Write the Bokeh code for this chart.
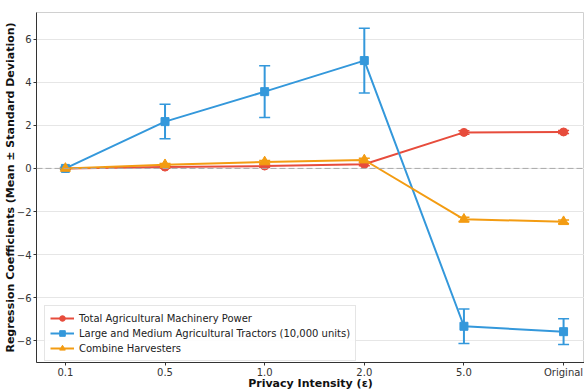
from bokeh.plotting import figure
from bokeh.models import ColumnDataSource, Whisker, TeeHead, Span, Legend, LegendItem, FixedTicker, Range1d
from bokeh.embed import file_html
from bokeh.resources import INLINE

categories = ["0.1", "0.5", "1.0", "2.0", "5.0", "Original"]
series_names = [
    "Total Agricultural Machinery Power",
    "Large and Medium Agricultural Tractors (10,000 units)",
    "Combine Harvesters",
]
power_mean = [0.0, 0.06, 0.11, 0.19, 1.67, 1.69]
power_std = [0.02, 0.05, 0.06, 0.07, 0.08, 0.07]
tractor_mean = [0.0, 2.17, 3.56, 5.0, -7.32, -7.57]
tractor_std = [0.05, 0.8, 1.2, 1.5, 0.8, 0.6]
harvest_mean = [0.0, 0.17, 0.3, 0.39, -2.36, -2.47]
harvest_std = [0.02, 0.06, 0.07, 0.08, 0.1, 0.08]
y_ticks = [-8, -6, -4, -2, 0, 2, 4, 6]

colors = ["#e74c3c", "#3498db", "#f39c12"]
markers = ["circle", "square", "triangle"]
msizes = [8, 8, 10]
FONT = "DejaVu Sans"

p = figure(width=584, height=392, output_backend="svg", toolbar_location=None,
           x_range=Range1d(-0.29, 5.21), y_range=Range1d(-9.0, 7.23),
           min_border_top=12, min_border_left=0, min_border_right=0, min_border_bottom=0)

p.xgrid.grid_line_color = None
p.ygrid.grid_line_color = "#e6e6e6"
p.ygrid.grid_line_width = 1
p.outline_line_color = "#d0d0d0"

xs = list(range(len(categories)))
p.xaxis.ticker = FixedTicker(ticks=xs)
p.xaxis.major_label_overrides = {i: c for i, c in enumerate(categories)}
p.yaxis.ticker = FixedTicker(ticks=y_ticks)

for ax in (p.xaxis[0], p.yaxis[0]):
    ax.axis_line_color = "#333333"
    ax.axis_line_width = 1
    ax.major_tick_line_color = "#333333"
    ax.major_tick_out = 3
    ax.major_tick_in = 0
    ax.minor_tick_line_color = None
    ax.major_label_text_font = FONT
    ax.major_label_text_font_size = "10px"
    ax.major_label_text_color = "#333333"
    ax.axis_label_text_font = FONT
    ax.axis_label_text_font_size = "11px"
    ax.axis_label_text_font_style = "bold"
    ax.axis_label_text_color = "#111111"

p.xaxis.major_label_standoff = 1
p.xaxis.axis_label_standoff = -4
p.yaxis.major_label_standoff = 2
p.yaxis.axis_label_standoff = -3

p.xaxis.axis_label = "Privacy Intensity (ε)"
p.yaxis.axis_label = "Regression Coefficients (Mean ± Standard Deviation)"

p.add_layout(Span(location=0, dimension="width", line_color="#aaaaaa",
                  line_dash="6 3", line_width=1))

items = []
for name, mean, std, col, mk, ms in zip(series_names,
                                         [power_mean, tractor_mean, harvest_mean],
                                         [power_std, tractor_std, harvest_std],
                                         colors, markers, msizes):
    src = ColumnDataSource(dict(x=xs, y=mean,
                                lo=[m - s for m, s in zip(mean, std)],
                                hi=[m + s for m, s in zip(mean, std)]))
    w = Whisker(source=src, base="x", lower="lo", upper="hi", line_color=col,
                line_width=2,
                upper_head=TeeHead(size=11, line_color=col, line_width=1.5),
                lower_head=TeeHead(size=11, line_color=col, line_width=1.5))
    p.add_layout(w)
    l = p.line("x", "y", source=src, line_color=col, line_width=2)
    s = p.scatter("x", "y", source=src, marker=mk, size=ms, fill_color=col,
                  line_color=col)
    items.append(LegendItem(label=name, renderers=[l, s]))

leg = Legend(items=items, location=(8, 1))
leg.label_text_font = FONT
leg.label_text_font_size = "10px"
leg.label_text_color = "#222222"
leg.glyph_width = 24
leg.glyph_height = 14
leg.label_height = 14
leg.spacing = 1
leg.padding = 5
leg.margin = 0
leg.border_line_color = "#cccccc"
leg.border_line_width = 1
leg.background_fill_alpha = 0.9
p.add_layout(leg, "center")

open("out.html", "w").write(file_html(p, INLINE))
